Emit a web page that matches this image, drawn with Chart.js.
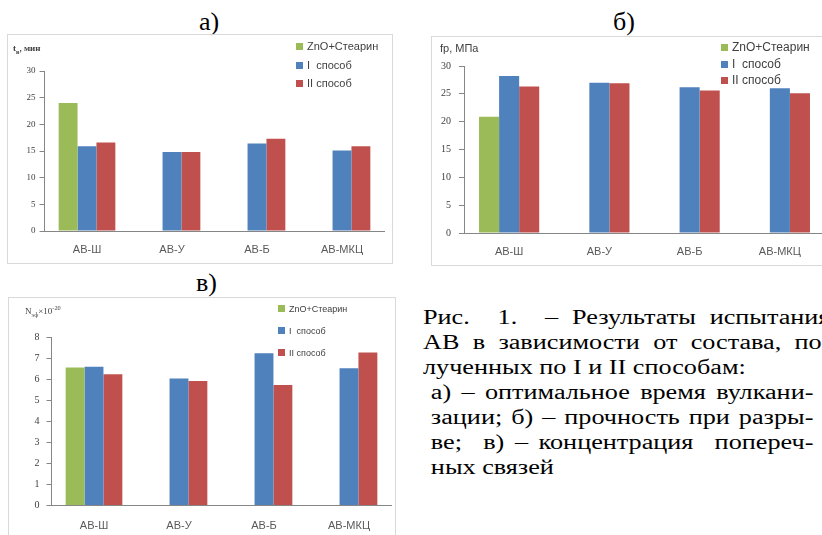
<!DOCTYPE html>
<html lang="ru">
<head>
  <meta charset="UTF-8" />
  <title>Результаты испытания АВ</title>
  <style>
    html, body { margin: 0; padding: 0; width: 822px; height: 535px; overflow: hidden; background: #fff; }
    .head { position: absolute; font-family: "Liberation Serif", "Times New Roman", serif; font-size: 26px; color: #000; line-height: 26px; }
    .box { position: absolute; outline: 1px solid #d9d9d9; }
    .unit { position: absolute; color: #404040; white-space: nowrap; }
    .unit sub, .unit sup { font-size: 70%; }
    .legend { position: absolute; font-family: "Liberation Sans", Arial, sans-serif; color: #404040; white-space: pre; }
    .legend div { position: absolute; left: 0; }
    .legend span { display: inline-block; width: 7px; height: 7px; margin-right: 4px; vertical-align: 0; }
    #caption { position: absolute; left: 423px; top: 305px; font-family: "Liberation Serif", "Times New Roman", serif; font-size: 20px; line-height: 25px; color: #000; transform: scaleX(1.31); transform-origin: 0 0; white-space: nowrap; }
    #caption div { text-align: left; }
    #caption div.j { white-space: normal; text-align: justify; text-align-last: justify; }
  </style>
  <script src="https://cdn.jsdelivr.net/npm/chart.js"></script>
</head>
<body>
  <div class="head" style="left:199px; top:9px;">а)</div>
  <div class="head" style="left:613px; top:9px;">б)</div>
  <div class="head" style="left:196px; top:270px;">в)</div>

  <div class="box" id="boxA" style="left:8px; top:35px; width:384px; height:228px;"><canvas id="chartA"></canvas></div>
  <div class="box" id="boxB" style="left:432px; top:37px; width:400px; height:228px;"><canvas id="chartB"></canvas></div>
  <div class="box" id="boxC" style="left:9px; top:298px; width:386px; height:250px;"><canvas id="chartC"></canvas></div>

  <div class="unit" style="left:13px; top:43px; font:bold 9px 'Liberation Serif', serif;">t<sub>в</sub>, мин</div>
  <div class="unit" style="left:440px; top:42px; font:11px 'Liberation Sans', sans-serif;">fр, МПа</div>
  <div class="unit" style="left:25px; top:304px; font:9px 'Liberation Serif', serif;">N<sub>эф</sub>×10<sup>-20</sup></div>

  <div class="legend" id="legA" style="left:296px; top:40px; font-size:11px;"></div>
  <div class="legend" id="legB" style="left:721px; top:40px; font-size:12px;"></div>
  <div class="legend" id="legC" style="left:278px; top:304px; font-size:9px;"></div>

  <div id="caption">
    <div class="j" style="width:311px;">Рис.&nbsp; 1. &nbsp;– Результаты испытания</div>
    <div class="j" style="width:311px;">АВ в зависимости от состава, по-</div>
    <div>лученных по I и II способам:</div>
    <div class="j" style="width:292px; margin-left:6px;">а) – оптимальное время вулкани-</div>
    <div class="j" style="width:292px; margin-left:6px;">зации; б) – прочность при разры-</div>
    <div class="j" style="width:292px; margin-left:6px;">ве;&nbsp; в) – концентрация&nbsp; попереч-</div>
    <div style="margin-left:6px;">ных связей</div>
  </div>

  <script>
    const categories = ['АВ-Ш', 'АВ-У', 'АВ-Б', 'АВ-МКЦ'];
    const seriesNames = ['ZnO+Стеарин', 'I  способ', 'II способ'];
    const seriesColors = ['#9bbb59', '#4f81bd', '#c0504d'];

    // а) оптимальное время вулканизации, мин
    const timeZnO = [24.0, null, null, null];
    const timeI = [15.9, 14.8, 16.4, 15.1];
    const timeII = [16.6, 14.8, 17.3, 15.9];

    // б) прочность при разрыве, МПа
    const strengthZnO = [20.9, null, null, null];
    const strengthI = [28.2, 27.0, 26.2, 26.0];
    const strengthII = [26.3, 26.9, 25.6, 25.1];

    // в) концентрация поперечных связей
    const densityZnO = [6.58, null, null, null];
    const densityI = [6.61, 6.06, 7.26, 6.54];
    const densityII = [6.26, 5.93, 5.74, 7.30];

    function makeChart(id, series, cfg) {
      const datasets = series.map((data, i) => ({
        label: seriesNames[i],
        data: data,
        backgroundColor: seriesColors[i],
        borderWidth: 0,
        categoryPercentage: 0.667,
        barPercentage: 1.0
      }));
      return new Chart(document.getElementById(id), {
        type: 'bar',
        data: { labels: categories, datasets: datasets },
        options: {
          responsive: true,
          maintainAspectRatio: false,
          animation: false,
          layout: { padding: cfg.padding },
          plugins: { legend: { display: false }, tooltip: { enabled: false } },
          scales: {
            x: {
              grid: { display: false, drawTicks: false },
              border: { display: true, color: '#868686', width: 1 },
              ticks: { padding: cfg.xPad, color: '#595959', font: { family: 'Liberation Sans', size: 11 } },
              afterFit: s => { s.height = 30; }
            },
            y: {
              min: 0, max: cfg.max,
              grid: { drawOnChartArea: false, drawTicks: true, tickLength: 5, color: '#868686' },
              border: { display: true, color: '#868686', width: 1 },
              ticks: { stepSize: cfg.step, padding: cfg.yPad, color: '#404040', font: { family: 'Liberation Serif', size: cfg.yFont } },
              afterFit: s => { s.width = 32; }
            }
          }
        }
      });
    }

    function makeLegend(id, rows) {
      const el = document.getElementById(id);
      el.innerHTML = seriesNames.map((name, i) =>
        `<div style="top:${rows[i]}px"><span style="background:${seriesColors[i]}"></span>${name}</div>`).join('');
    }

    makeChart('chartA', [timeZnO, timeI, timeII], { max: 30, step: 5, yPad: 4, yFont: 9, xPad: 12, padding: { left: 4.5, right: 7.5, top: 36, bottom: 2 } });
    makeChart('chartB', [strengthZnO, strengthI, strengthII], { max: 30, step: 5, yPad: 8, yFont: 10, xPad: 12, padding: { left: 0, right: 7, top: 29, bottom: 2 } });
    makeChart('chartC', [densityZnO, densityI, densityII], { max: 8, step: 1, yPad: 7, yFont: 10, xPad: 14, padding: { left: 10.5, right: 3.5, top: 39.7, bottom: 12.5 } });

    makeLegend('legA', [0, 19, 37]);
    makeLegend('legB', [0, 17, 33]);
    makeLegend('legC', [0, 22, 44]);
  </script>
</body>
</html>
